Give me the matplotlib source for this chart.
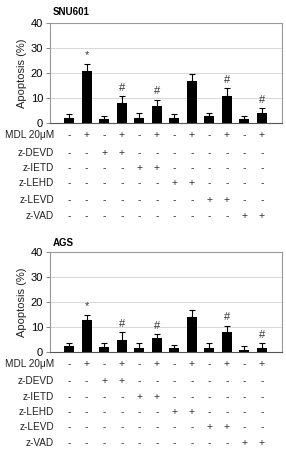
import matplotlib
matplotlib.use("Agg")
import matplotlib.pyplot as plt
import matplotlib.transforms as mtransforms
import numpy as np

plt.rcParams['font.family'] = ['Liberation Sans', 'DejaVu Sans']

titles = ["SNU601", "AGS"]
snu_vals = [2, 21, 1.5, 8, 2, 7, 2, 17, 3, 11, 1.5, 4]
snu_err = [1.5, 2.8, 1.5, 2.7, 2, 2.3, 1.5, 2.8, 1.2, 3, 1.3, 2]
snu_marks = ["", "*", "", "#", "", "#", "", "", "", "#", "", "#"]
ags_vals = [2.5, 13, 2, 5, 1.5, 5.5, 1.5, 14, 1.5, 8, 1, 1.5]
ags_err = [1, 2, 1.5, 3, 2, 1.7, 1.3, 3, 2, 2.5, 1.5, 2]
ags_marks = ["", "*", "", "#", "", "#", "", "", "", "#", "", "#"]

row_labels = ["MDL 20\u03bcM", "z-DEVD", "z-IETD", "z-LEHD", "z-LEVD", "z-VAD"]
table = [
    "-+-+-+-+-+-+",
    "--++--------",
    "----++------",
    "------++----",
    "--------++--",
    "----------++",
]
yticks = [0, 10, 20, 30, 40]

W, H = 286, 449
fig = plt.figure(figsize=(W / 100, H / 100), dpi=100)

panels = [
    (titles[0], snu_vals, snu_err, snu_marks, 23, 123, [135, 153, 168, 183, 200, 216], 12),
    (titles[1], ags_vals, ags_err, ags_marks, 252, 352, [364, 381, 397, 412, 427, 443], 243),
]

for title, vals, errs, marks, ytop, ybot, rows_y, title_y in panels:
    left, right = 50, 282
    ax = fig.add_axes([left / W, 1 - ybot / H, (right - left) / W, (ybot - ytop) / H])
    x = np.arange(len(vals))
    ax.bar(x, vals, width=0.58, color="black", zorder=3)
    ax.errorbar(x, vals, yerr=[np.zeros(len(errs)), errs], fmt="none",
                ecolor="black", elinewidth=0.8, capsize=2, capthick=0.8, zorder=4)
    for xi, v, e, m in zip(x, vals, errs, marks):
        if m:
            ax.text(xi, v + e + 1.3, m, ha="center", va="bottom", fontsize=8, color="#333333")
    ax.set_xlim(-1.1, len(vals) - 1 + 1.15)
    ax.set_ylim(0, 40)
    ax.set_yticks(yticks)
    ax.set_yticklabels([str(t) for t in yticks], fontsize=8)
    ax.set_xticks([])
    ax.yaxis.grid(True, color="#d8d8d8", linewidth=0.7, zorder=0)
    ax.set_axisbelow(True)
    for s in ax.spines.values():
        s.set_color("#999999")
        s.set_linewidth(0.8)
    ax.spines["bottom"].set_color("#555555")
    ax.tick_params(axis="y", length=3, width=0.7, color="#888888", pad=2)
    ax.set_ylabel("Apoptosis (%)", fontsize=8, labelpad=3, color="#222222")
    fig.text(53 / W, 1 - title_y / H, title, fontsize=7, fontweight="bold", ha="left", va="center")

    trans = mtransforms.blended_transform_factory(ax.transData, fig.transFigure)
    for lab, row, ry in zip(row_labels, table, rows_y):
        fig.text(54 / W, 1 - ry / H, lab, fontsize=7.2, ha="right", va="center", color="#222222")
        for xi, ch in zip(x, row):
            ax.text(xi, 1 - ry / H, ch, transform=trans, fontsize=7.5, color="#333333",
                    ha="center", va="center", clip_on=False)

fig.savefig("out.png", dpi=100)
